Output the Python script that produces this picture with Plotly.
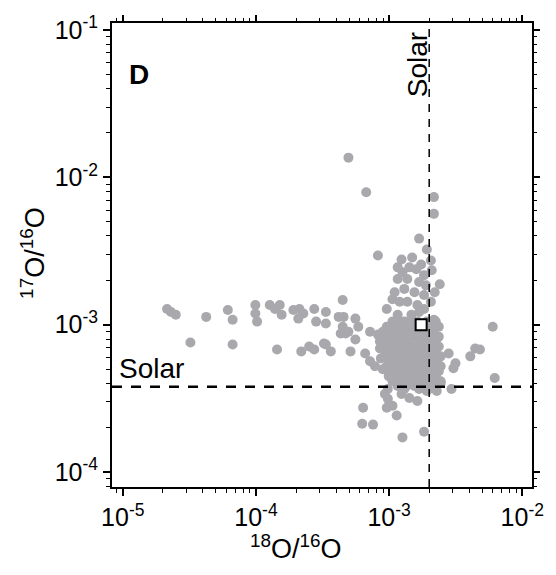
import plotly.graph_objects as go

# ---- data (ratios) ----
top_x = [4.95e-4, 6.73e-4, 2.17e-3, 2.17e-3]
top_y = [1.36e-2, 7.93e-3, 7.34e-3, 5.65e-3]

column_x = [1.68e-3, 8.24e-4, 1.92e-3, 1.24e-3, 1.16e-3, 1.49e-3, 1.60e-3, 2.06e-3, 2.09e-3, 1.16e-3,
            1.37e-3, 1.83e-3, 1.89e-3, 2.40e-3, 1.30e-3, 1.55e-3, 1.83e-3, 1.37e-3, 1.63e-3, 9.6e-4,
            1.83e-3, 1.16e-3, 1.47e-3, 2.17e-3, 1.30e-3, 1.20e-3, 2.06e-3, 1.10e-3, 1.68e-3, 1.42e-3,
            1.68e-3, 1.06e-3, 2.20e-3, 1.26e-3, 1.74e-3]
column_y = [3.84e-3, 2.95e-3, 3.24e-3, 2.77e-3, 2.45e-3, 2.86e-3, 2.38e-3, 2.73e-3, 2.34e-3, 2.04e-3,
            2.04e-3, 2.17e-3, 1.85e-3, 1.88e-3, 1.75e-3, 1.66e-3, 1.59e-3, 1.43e-3, 1.36e-3, 1.28e-3,
            1.28e-3, 1.17e-3, 1.17e-3, 1.08e-3, 1.05e-3, 1.43e-3, 1.43e-3, 1.66e-3, 1.95e-3, 2.45e-3,
            1.22e-3, 1.49e-3, 1.66e-3, 2.27e-3, 2.56e-3]

branch_x = [2.15e-5, 2.30e-5, 2.50e-5, 4.23e-5, 6.15e-5, 6.68e-5, 3.22e-5, 6.68e-5, 9.9e-5, 9.9e-5,
            1.02e-4, 1.27e-4, 1.39e-4, 1.51e-4, 1.56e-4, 1.91e-4, 2.12e-4, 2.08e-4, 2.27e-4, 2.74e-4,
            2.83e-4, 3.35e-4, 3.35e-4, 4.48e-4, 4.18e-4, 4.55e-4, 4.48e-4, 4.71e-4, 5.58e-4, 5.87e-4,
            1.44e-4, 2.19e-4, 2.51e-4, 2.74e-4, 3.24e-4, 3.65e-4, 5.13e-4, 5.58e-4, 3.35e-4, 4.33e-4,
            4.95e-4, 6.61e-4, 7.19e-4, 7.19e-4, 8.24e-4, 7.83e-4, 8.53e-4]
branch_y = [1.28e-3, 1.22e-3, 1.17e-3, 1.13e-3, 1.26e-3, 1.08e-3, 7.57e-4, 7.34e-4, 1.36e-3, 1.19e-3,
            1.05e-3, 1.36e-3, 1.28e-3, 1.36e-3, 1.17e-3, 1.26e-3, 1.28e-3, 1.10e-3, 1.19e-3, 1.28e-3,
            1.05e-3, 1.22e-3, 1.02e-3, 1.47e-3, 1.13e-3, 1.13e-3, 9.7e-4, 8.71e-4, 1.10e-3, 9.7e-4,
            6.79e-4, 6.59e-4, 7.11e-4, 6.79e-4, 7.45e-4, 6.59e-4, 6.59e-4, 7.93e-4, 7.34e-4, 8.71e-4,
            8.97e-4, 6.38e-4, 5.65e-4, 8.97e-4, 8.57e-4, 5.22e-4, 7.69e-4]

core_x = [1.06e-3, 1.20e-3, 1.42e-3, 1.63e-3, 1.92e-3, 2.24e-3,
          9.6e-4, 1.10e-3, 1.30e-3, 1.55e-3, 2.06e-3, 2.36e-3,
          8.97e-4, 1.03e-3, 1.20e-3, 1.42e-3, 1.68e-3, 1.89e-3, 2.17e-3,
          9.6e-4, 1.10e-3, 1.30e-3, 1.55e-3, 1.83e-3, 2.09e-3, 2.36e-3,
          9.29e-4, 1.04e-3, 1.20e-3, 1.37e-3, 1.63e-3, 1.92e-3, 2.24e-3,
          8.97e-4, 1.01e-3, 1.16e-3, 1.30e-3, 1.49e-3, 1.77e-3, 2.06e-3, 2.36e-3,
          9.78e-4, 1.10e-3, 1.26e-3, 1.42e-3, 1.68e-3, 1.92e-3, 2.24e-3,
          9.29e-4, 1.06e-3, 1.20e-3, 1.37e-3, 1.55e-3, 1.83e-3, 2.09e-3, 2.44e-3,
          1.01e-3, 1.14e-3, 1.30e-3, 1.49e-3, 1.74e-3, 1.99e-3, 2.28e-3,
          9.6e-4, 1.10e-3, 1.24e-3, 1.42e-3, 1.63e-3, 1.89e-3, 2.17e-3,
          1.04e-3, 1.20e-3, 1.37e-3, 1.55e-3, 1.77e-3, 2.06e-3, 2.36e-3,
          1.10e-3, 1.26e-3, 1.47e-3, 1.68e-3, 1.92e-3, 2.24e-3,
          1.06e-3, 1.20e-3, 1.37e-3, 1.60e-3, 1.83e-3, 2.17e-3, 2.44e-3,
          1.16e-3, 1.35e-3, 1.55e-3, 1.77e-3, 2.06e-3,
          9.78e-4, 1.30e-3, 1.68e-3, 1.99e-3,
          8.67e-4, 8.97e-4, 9.93e-4, 8.53e-4, 1.06e-3, 2.02e-3, 2.44e-3]
core_y = [1.05e-3] * 6 + [9.7e-4] * 6 + [8.97e-4] * 7 + [8.30e-4] * 7 + [7.69e-4] * 7 + \
         [7.11e-4] * 8 + [6.59e-4] * 7 + [6.10e-4] * 8 + [5.65e-4] * 7 + [5.22e-4] * 7 + \
         [4.84e-4] * 7 + [4.48e-4] * 6 + [4.14e-4] * 7 + [3.84e-4] * 5 + [3.66e-4] * 4 + \
         [5.91e-4, 4.99e-4, 4.48e-4, 6.90e-4, 7.34e-4, 6.59e-4, 5.22e-4]

low_x = [9.78e-4, 1.06e-3, 1.14e-3, 6.38e-4, 6.28e-4, 7.57e-4, 9.6e-4, 1.26e-3, 1.83e-3, 1.24e-3,
         1.42e-3, 1.63e-3, 9.29e-4, 1.92e-3]
low_y = [3.14e-4, 2.82e-4, 2.42e-4, 2.73e-4, 2.13e-4, 2.10e-4, 2.73e-4, 1.72e-4, 1.88e-4, 3.39e-4,
         3.18e-4, 3.04e-4, 3.39e-4, 3.55e-4]

right_x = [6.0e-3, 2.80e-3, 3.15e-3, 3.04e-3, 4.07e-3, 4.43e-3, 4.81e-3, 6.21e-3, 2.94e-3, 2.24e-3,
           2.44e-3, 2.28e-3]
right_y = [9.7e-4, 6.38e-4, 5.47e-4, 5.07e-4, 6.10e-4, 6.90e-4, 6.79e-4, 4.35e-4, 3.66e-4, 4.62e-4,
           4.02e-4, 3.55e-4]

standard_x = [1.74e-3]
standard_y = [1.0e-3]

solar_o18 = 2.0e-3
solar_o17 = 3.8e-4

x_tickvals = [1e-5, 1e-4, 1e-3, 1e-2]
x_ticktext = ["10<sup>-5</sup>", "10<sup>-4</sup>", "10<sup>-3</sup>", "10<sup>-2</sup>"]
y_tickvals = [1e-4, 1e-3, 1e-2, 1e-1]
y_ticktext = ["10<sup>-4</sup>", "10<sup>-3</sup>", "10<sup>-2</sup>", "10<sup>-1</sup>"]

X_RANGE = [-5.081, -1.927]
Y_RANGE = [-4.101, -0.953]

FONT = "Liberation Sans, Arial, sans-serif"
grey = "#a9a9ad"

all_x = top_x + column_x + branch_x + core_x + low_x + right_x
all_y = top_y + column_y + branch_y + core_y + low_y + right_y

fig = go.Figure()
fig.add_trace(go.Scatter(x=all_x, y=all_y, mode="markers",
                         marker=dict(size=10, color=grey, line=dict(width=0)),
                         showlegend=False, hoverinfo="skip"))

# solar reference lines
fig.add_shape(type="line", xref="x", yref="paper", x0=solar_o18, x1=solar_o18, y0=0, y1=1,
              line=dict(color="black", width=1.5, dash="8px,7px"))
fig.add_shape(type="line", xref="paper", yref="y", x0=0, x1=1, y0=solar_o17, y1=solar_o17,
              line=dict(color="black", width=2.5, dash="10px,9px"))

fig.add_trace(go.Scatter(x=standard_x, y=standard_y, mode="markers",
                         marker=dict(symbol="square", size=11, color="white",
                                     line=dict(color="black", width=2)),
                         showlegend=False, hoverinfo="skip"))

# invisible trace to carry the mirrored top/right axes (for minor ticks on all sides)
fig.add_trace(go.Scatter(x=standard_x, y=standard_y, xaxis="x2", yaxis="y2", mode="markers",
                         marker=dict(opacity=0), showlegend=False, hoverinfo="skip"))

minor = dict(ticks="outside", ticklen=4, tickwidth=1, tickcolor="black", dtick="D1", showgrid=False)
axis_common = dict(
    type="log", showgrid=False, zeroline=False, showline=True, linecolor="black", linewidth=2,
    mirror=True, ticks="outside", ticklen=7, tickwidth=1.5, tickcolor="black",
    tickmode="array", tickfont=dict(family=FONT, size=25, color="black"), minor=minor,
)

fig.update_layout(
    xaxis=dict(**axis_common, range=X_RANGE, tickvals=x_tickvals, ticktext=x_ticktext),
    yaxis=dict(**axis_common, range=Y_RANGE, tickvals=y_tickvals, ticktext=y_ticktext),
    xaxis2=dict(type="log", overlaying="x", side="top", range=X_RANGE, showgrid=False, zeroline=False,
                showline=False, ticks="outside", ticklen=7, tickwidth=1.5, tickcolor="black",
                tickmode="array", tickvals=x_tickvals, showticklabels=False, minor=minor),
    yaxis2=dict(type="log", overlaying="y", side="right", range=Y_RANGE, showgrid=False, zeroline=False,
                showline=False, ticks="outside", ticklen=7, tickwidth=1.5, tickcolor="black",
                tickmode="array", tickvals=y_tickvals, showticklabels=False, minor=minor),
)

# axis titles
fig.add_annotation(text="<sup>18</sup>O/<sup>16</sup>O", xref="paper", yref="paper", x=0.437, y=-0.13,
                   xanchor="center", yanchor="middle", showarrow=False,
                   font=dict(family=FONT, size=27, color="black"))
fig.add_annotation(text="<sup>17</sup>O/<sup>16</sup>O", xref="paper", yref="paper", x=-0.19, y=0.505,
                   xanchor="center", yanchor="middle", textangle=-90, showarrow=False,
                   font=dict(family=FONT, size=27, color="black"))

fig.add_annotation(text="<b>D</b>", xref="paper", yref="paper", x=0.035, y=0.889,
                   xanchor="left", yanchor="middle", showarrow=False,
                   font=dict(family=FONT, size=28, color="black"))
fig.add_annotation(text="Solar", xref="paper", yref="y", x=0.012, y=-3.3,
                   xanchor="left", yanchor="middle", showarrow=False,
                   font=dict(family=FONT, size=28, color="black"))
fig.add_annotation(text="Solar", xref="x", yref="paper", x=-2.785, y=0.985,
                   xanchor="center", yanchor="top", textangle=-90, showarrow=False,
                   font=dict(family=FONT, size=28, color="black"))

fig.update_layout(width=556, height=575, margin=dict(l=112, r=16, t=18, b=88),
                  paper_bgcolor="white", plot_bgcolor="white",
                  font=dict(family=FONT, color="black"))

fig.write_html("out.html")
